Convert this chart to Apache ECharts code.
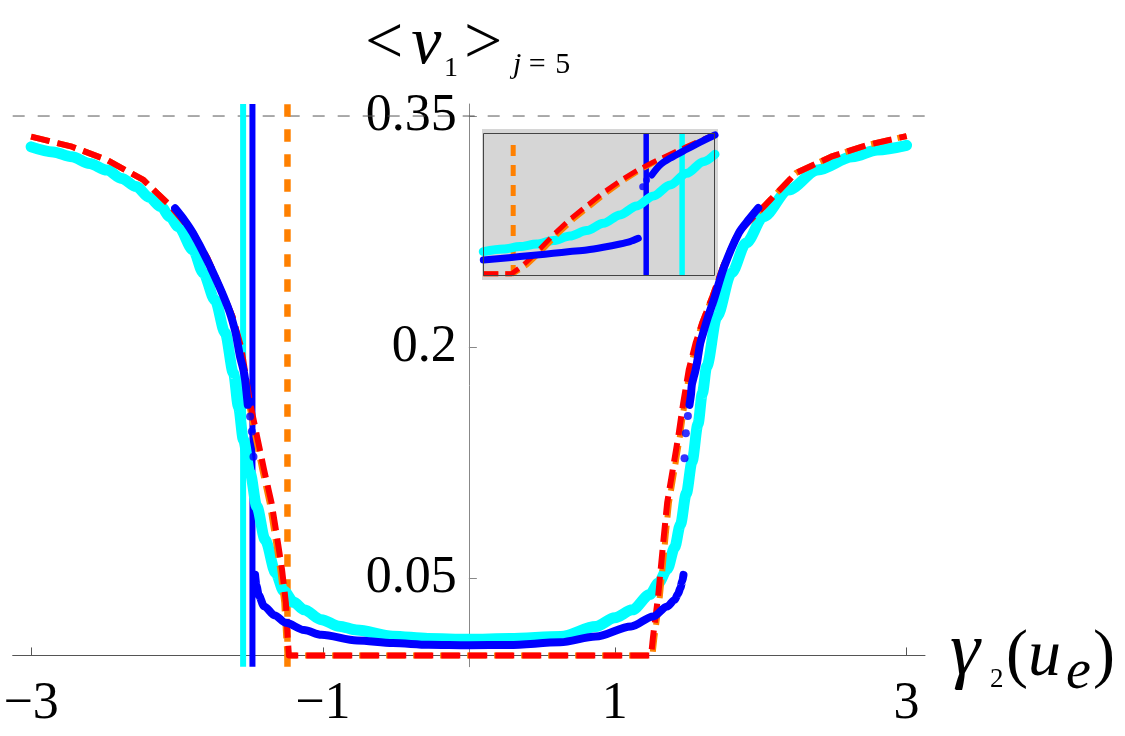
<!DOCTYPE html>
<html><head><meta charset="utf-8">
<script src="https://cdn.jsdelivr.net/npm/echarts@6.0.0/dist/echarts.min.js"></script>
<style>html,body{margin:0;padding:0;background:#fff;}#c{width:1125px;height:736px;}</style>
</head><body><div id="c"></div>
<script>
// ---------- axes ----------
const X_MIN = -3.126, X_MAX = 3.126;
const Y_MIN = -0.0073, Y_MAX = 0.3578;
const xTicks = [-3, -1, 1, 3];
const yTicks = [0.05, 0.2, 0.35];
const plateau = [0.35];

// ---------- main plot: vertical markers ----------
const vCyan = [-1.547];
const vBlue = [-1.483];
const vOrange = [-1.243];

// ---------- main plot: cyan points ----------
const cyanX = [-3.00,-2.85,-2.72,-2.60,-2.48,-2.38,-2.28,-2.19,-2.11,-2.05,-1.99,-1.89,-1.82,-1.74,-1.67,-1.613,-1.579,-1.545,-1.499,-1.453,-1.396,-1.323,-1.27,-1.20,-1.13,-1.01,-0.89,-0.77,-0.52,-0.28,0.00,0.28,0.63,0.87,1.00,1.12,1.24,1.30,1.36,1.41,1.45,1.49,1.53,1.57,1.60,1.63,1.70,1.80,1.90,2.02,2.19,2.39,2.63,2.80,3.00];
const cyanY = [0.3300,0.3267,0.3236,0.3192,0.3149,0.3095,0.3042,0.2972,0.2912,0.2848,0.2782,0.2631,0.2482,0.2307,0.2093,0.1831,0.1615,0.1399,0.1183,0.0966,0.0750,0.0534,0.0420,0.0345,0.0296,0.0232,0.0190,0.0165,0.0125,0.0110,0.0105,0.0110,0.0123,0.0188,0.0245,0.0296,0.0395,0.0470,0.0560,0.0700,0.0850,0.1050,0.1260,0.1500,0.1700,0.1874,0.2198,0.2482,0.2676,0.2847,0.3020,0.3150,0.3236,0.3280,0.3310];

// ---------- main plot: blue points ----------
const blueUpLeftX = [-2.013,-1.95,-1.89,-1.794,-1.70,-1.64,-1.60,-1.585,-1.568,-1.545,-1.533,-1.522,-1.515];
const blueUpLeftY = [0.2901,0.2825,0.2739,0.2566,0.2372,0.2230,0.2100,0.2026,0.1939,0.1853,0.1788,0.1691,0.1626];
const blueLowX = [-1.465,-1.455,-1.440,-1.403,-1.330,-1.254,-1.130,-1.010,-0.766,-0.520,-0.275,0.000,0.275,0.626,0.870,1.112,1.263,1.359,1.410,1.434,1.450,1.462,1.471];
const blueLowY = [0.0523,0.0450,0.0390,0.0318,0.0260,0.0212,0.0165,0.0134,0.0097,0.0080,0.0069,0.0066,0.0068,0.0085,0.0123,0.0188,0.0253,0.0318,0.0360,0.0400,0.0440,0.0480,0.0523];
const blueUpRightX = [1.512,1.522,1.528,1.539,1.551,1.563,1.574,1.586,1.606,1.640,1.679,1.750,1.850,1.920,1.983];
const blueUpRightY = [0.1626,0.1691,0.1756,0.1799,0.1842,0.1896,0.1961,0.2026,0.2093,0.2200,0.2307,0.2523,0.2741,0.2830,0.2903];
const blueDotX = [-1.499,-1.487,-1.476,1.478,1.487,1.501];
const blueDotY = [0.1550,0.1453,0.1290,0.1280,0.1442,0.1554];

// ---------- main plot: theory curves ----------
const redX = [-3.00,-2.72,-2.48,-2.23,-2.04,-1.89,-1.79,-1.70,-1.62,-1.56,-1.53,-1.499,-1.451,-1.403,-1.352,-1.315,-1.280,-1.254,-1.242,-1.233,1.249,1.262,1.274,1.297,1.336,1.359,1.397,1.435,1.469,1.507,1.555,1.600,1.670,1.745,1.845,2.021,2.241,2.483,2.730,3.00];
const orangeX = [-3.00,-2.72,-2.48,-2.23,-2.04,-1.89,-1.79,-1.70,-1.62,-1.565,-1.537,-1.508,-1.462,-1.415,-1.365,-1.328,-1.292,-1.265,-1.252,-1.243,1.258,1.272,1.285,1.309,1.348,1.371,1.409,1.446,1.479,1.515,1.560,1.600,1.670,1.745,1.845,2.021,2.241,2.483,2.730,3.00];
const theoryY = [0.3366,0.3301,0.3215,0.3085,0.2912,0.2745,0.2575,0.2380,0.2200,0.2000,0.1820,0.1639,0.1420,0.1204,0.0990,0.0772,0.0556,0.0342,0.0123,0,0,0.0120,0.0212,0.0383,0.0772,0.0990,0.1204,0.1420,0.1639,0.1853,0.2030,0.2160,0.2330,0.2530,0.2745,0.2912,0.3130,0.3236,0.3312,0.3370];

// ---------- inset (its own 0..1 scale) ----------
const inVOrange = [0.129], inVBlue = [0.703], inVCyan = [0.858];
const inRedX = [0,0.122,0.173,0.230,0.302,0.374,0.446,0.518,0.590,0.662,0.734,0.806,0.878,0.950,1.0];
const inOrangeX = [0,0.130,0.188,0.245,0.317,0.389,0.461,0.533,0.603,0.672,0.742,0.812,0.882,0.952,1.0];
const inTheoryY = [0.016,0.016,0.077,0.164,0.287,0.397,0.491,0.584,0.666,0.738,0.799,0.853,0.907,0.958,0.993];
const inCyanX = [0,0.086,0.158,0.230,0.302,0.374,0.446,0.518,0.590,0.662,0.734,0.806,0.878,0.950,1.0];
const inCyanY = [0.171,0.189,0.206,0.224,0.248,0.280,0.318,0.369,0.428,0.491,0.561,0.638,0.720,0.801,0.853];
const inBlueLowX = [0,0.086,0.158,0.230,0.302,0.374,0.446,0.518,0.590,0.633,0.669];
const inBlueLowY = [0.112,0.124,0.136,0.147,0.159,0.171,0.182,0.201,0.224,0.241,0.264];
const inBlueUpX = [0.727,0.763,0.806,0.878,0.950,1.0];
const inBlueUpY = [0.708,0.778,0.825,0.888,0.949,0.988];
const inBlueDotX = [0.688,0.705];
const inBlueDotY = [0.626,0.673];

// ---------- helpers ----------
const pairs = (xs, ys) => xs.map((x, i) => [x, ys[i]]);
const vert = (v, lo, hi) => [[v[0], lo], [v[0], hi]];
const SERIF = 'Liberation Serif';
const CYAN = '#00ffff', BLUE = '#0000ff', RED = '#ff0000', ORANGE = '#ff8000';
const fmtX = v => (v < 0 ? '\u2212' + Math.abs(v) : String(v));
const MID = 0.3375; // baseline sits this many em below the 'middle' anchor

function line(name, data, color, width, extra, xi) {
  return Object.assign({
    name, type: 'line', data, xAxisIndex: xi || 0, yAxisIndex: xi || 0,
    showSymbol: false, symbol: 'none', silent: true, animation: false,
    lineStyle: { color, width, cap: 'round', join: 'round' }
  }, extra || {});
}
function txt(text, x, baseline, size, italic) {
  return { type: 'text', x, y: baseline - MID * size, z: 100,
    style: { text, fontFamily: SERIF, fontSize: size, fontStyle: italic ? 'italic' : 'normal',
      align: 'left', verticalAlign: 'middle', fill: '#000' } };
}
function rtxt(text, x, baseline, size, rich) {
  return { type: 'text', x, y: baseline - MID * size, z: 100,
    style: { text, fontFamily: SERIF, fontSize: size, align: 'left', verticalAlign: 'middle', fill: '#000', rich } };
}
function rt(size, italic, padLeft) {
  return { fontFamily: SERIF, fontSize: size, fontStyle: italic ? 'italic' : 'normal',
    padding: [0, 0, 0, padLeft || 0], fill: '#000' };
}

const chart = echarts.init(document.getElementById('c'), null, { renderer: 'canvas' });
const option = {
  backgroundColor: '#ffffff',
  animation: false,
  textStyle: { fontFamily: SERIF },
  grid: [
    { left: 12.7, right: 200, top: 104, bottom: 69.3, containLabel: false, outerBoundsMode: 'none' },
    { left: 483.3, top: 133.3, width: 231.7, height: 142.7, containLabel: false, outerBoundsMode: 'none' }
  ],
  xAxis: [
    {
      type: 'value', min: X_MIN, max: X_MAX, gridIndex: 0,
      axisLine: { show: true, onZero: true, lineStyle: { color: '#555', width: 1 } },
      axisTick: { show: true, inside: true, length: 8, customValues: xTicks, lineStyle: { color: '#555', width: 1 } },
      axisLabel: { show: true, customValues: xTicks, formatter: fmtX, margin: 12,
        fontFamily: SERIF, fontSize: 52, color: '#000' },
      splitLine: { show: false }
    },
    { type: 'value', min: 0, max: 1, gridIndex: 1, show: false }
  ],
  yAxis: [
    {
      type: 'value', min: Y_MIN, max: Y_MAX, gridIndex: 0, offset: -456.15,
      axisLine: { show: true, onZero: false, lineStyle: { color: '#888', width: 1 } },
      axisTick: { show: true, inside: true, length: 8, customValues: yTicks, lineStyle: { color: '#888', width: 1 } },
      axisLabel: { show: true, customValues: yTicks, formatter: v => String(v), margin: 12,
        fontFamily: SERIF, fontSize: 52, color: '#000' },
      splitLine: { show: false }
    },
    { type: 'value', min: 0, max: 1, gridIndex: 1, show: false }
  ],
  graphic: [
    { type: 'rect', z: -10, shape: { x: 482, y: 129, width: 236, height: 151 }, style: { fill: '#d6d6d6' } },
    { type: 'rect', z: 100, shape: { x: 483.5, y: 133.5, width: 231, height: 142 }, style: { fill: 'none', stroke: '#444', lineWidth: 1 } },
    rtxt('{a|<}{b|ν}', 365, 68, 68, { a: rt(68, false, 0), b: rt(68, true, 8) }),
    txt('1', 444, 78, 28, false),
    txt('>', 464, 68, 68, false),
    rtxt('{i|j}{n| = }{m|5}', 513, 75, 30, { i: rt(30, true, 0), n: rt(30, false, 0), m: rt(30, false, 2) }),
    txt('γ', 950, 680, 76, true),
    txt('2', 990, 689, 27, false),
    rtxt('{p|(}{u|u}', 1006, 680, 66, { p: rt(66, false, 0), u: rt(66, true, 0) }),
    txt('e', 1066, 692, 56, true),
    txt(')', 1093, 680, 66, false)
  ],
  series: [
    line('plateau', [[X_MIN, plateau[0]], [X_MAX, plateau[0]]], '#555', 1,
      { z: 1, lineStyle: { color: '#555', width: 1, type: [12, 13], cap: 'butt' } }),
    line('vCyan', vert(vCyan, Y_MIN, Y_MAX), CYAN, 6, { z: 2, lineStyle: { color: CYAN, width: 6, cap: 'butt' } }),
    line('vBlue', vert(vBlue, Y_MIN, Y_MAX), BLUE, 6, { z: 2, lineStyle: { color: BLUE, width: 6, cap: 'butt' } }),
    line('vOrange', vert(vOrange, Y_MIN, Y_MAX), ORANGE, 6, { z: 2, lineStyle: { color: ORANGE, width: 6.5, type: [12.5, 12.5], cap: 'butt' } }),
    line('cyan', pairs(cyanX, cyanY), CYAN, 11, { z: 3, smooth: 0.3, smoothMonotone: 'x' }),
    line('orange', pairs(orangeX, theoryY), ORANGE, 6, { z: 4, lineStyle: { color: ORANGE, width: 6, type: [19, 8], cap: 'butt', join: 'round' } }),
    line('red', pairs(redX, theoryY), RED, 6, { z: 5, lineStyle: { color: RED, width: 6, type: [19, 8], cap: 'butt', join: 'round' } }),
    line('blueUL', pairs(blueUpLeftX, blueUpLeftY), BLUE, 8, { z: 6, smooth: 0.3 }),
    line('blueLow', pairs(blueLowX, blueLowY), BLUE, 8, { z: 6, smooth: 0.3, smoothMonotone: 'x' }),
    line('blueUR', pairs(blueUpRightX, blueUpRightY), BLUE, 8, { z: 6, smooth: 0.3 }),
    { name: 'blueDots', type: 'scatter', data: pairs(blueDotX, blueDotY), symbol: 'circle', symbolSize: 8,
      itemStyle: { color: BLUE }, z: 6, silent: true, animation: false },

    line('in_vOrange', vert(inVOrange, 0, 0.965), ORANGE, 5, { z: 2, lineStyle: { color: ORANGE, width: 5, type: [11, 9], cap: 'butt' } }, 1),
    line('in_vBlue', vert(inVBlue, 0, 1), BLUE, 5, { z: 2, lineStyle: { color: BLUE, width: 5.5, cap: 'butt' } }, 1),
    line('in_vCyan', vert(inVCyan, 0, 1), CYAN, 5, { z: 2, lineStyle: { color: CYAN, width: 5.5, cap: 'butt' } }, 1),
    line('in_cyan', pairs(inCyanX, inCyanY), CYAN, 9, { z: 3, smooth: 0.3, smoothMonotone: 'x' }, 1),
    line('in_orange', pairs(inOrangeX, inTheoryY), ORANGE, 5, { z: 4, lineStyle: { color: ORANGE, width: 5, type: [15, 7], cap: 'butt' } }, 1),
    line('in_red', pairs(inRedX, inTheoryY), RED, 5, { z: 5, lineStyle: { color: RED, width: 5, type: [15, 7], cap: 'butt' } }, 1),
    line('in_blueLow', pairs(inBlueLowX, inBlueLowY), BLUE, 7, { z: 6, smooth: 0.3 }, 1),
    line('in_blueUp', pairs(inBlueUpX, inBlueUpY), BLUE, 7, { z: 6, smooth: 0.3 }, 1),
    { name: 'in_blueDots', type: 'scatter', data: pairs(inBlueDotX, inBlueDotY), xAxisIndex: 1, yAxisIndex: 1,
      symbol: 'circle', symbolSize: 7, itemStyle: { color: BLUE }, z: 6, silent: true, animation: false }
  ]
};
chart.setOption(option);
</script>
</body></html>
